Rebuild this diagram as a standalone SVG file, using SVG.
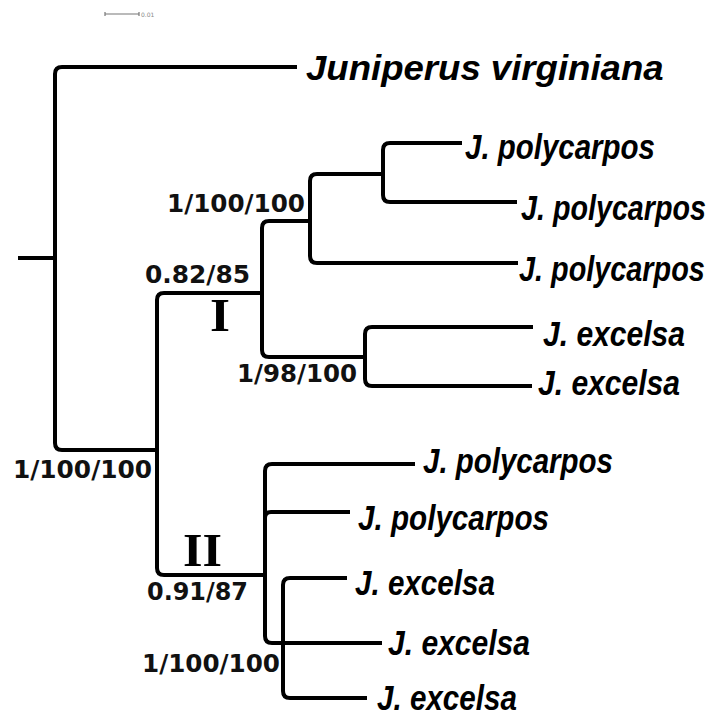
<svg xmlns="http://www.w3.org/2000/svg" width="719" height="718" viewBox="0 0 719 718">
<style>
.br{fill:none;stroke:#000;stroke-width:4;stroke-linecap:butt;stroke-linejoin:round}
.leaf{font-family:"Liberation Sans",Arial,sans-serif;font-weight:bold;font-style:italic;font-size:35px;fill:#000}
.sup{font-family:"DejaVu Sans","Liberation Sans",sans-serif;font-weight:bold;font-size:24px;fill:#111}
.clade{font-family:"Liberation Serif","Times New Roman",serif;font-weight:bold;font-size:46px;fill:#000}
</style>
<rect width="719" height="718" fill="#fff"/>
<g id="scalebar">
<path d="M105 14 H139 M105 12 V16 M139 12 V16" stroke="#777" stroke-width="1.2" fill="none"/>
<text x="141" y="17" font-family="DejaVu Sans, sans-serif" font-size="6" fill="#888">0.01</text>
</g>
<g id="connectors">
<path class="br" d="M18 258 H55"/>
<path class="br" d="M297 67 H62 Q55 67 55 74 V443 Q55 450 62 450 H157"/>
<path class="br" d="M262 293 H164 Q157 293 157 300 V568 Q157 575 164 575 H265"/>
<path class="br" d="M310 221 H269 Q262 221 262 228 V350 Q262 357 269 357 H365"/>
<path class="br" d="M383 174 H317 Q310 174 310 181 V256 Q310 263 317 263 H518"/>
<path class="br" d="M462 143 H390 Q383 143 383 150 V195 Q383 202 390 202 H517"/>
<path class="br" d="M533 327 H372 Q365 327 365 334 V379 Q365 386 372 386 H532"/>
<path class="br" d="M415 464 H272 Q265 464 265 471 V636 Q265 643 272 643 H382"/>
<path class="br" d="M350 512 H271 Q265 512 265 518"/>
<path class="br" d="M347 578 H290 Q283 578 283 585 V691 Q283 698 290 698 H367"/>
</g>
<g id="n-virginiana"><text class="leaf" font-size="32" transform="translate(306 80) scale(1.045 1)">Juniperus virginiana</text></g>
<g id="n-poly1"><text class="leaf" transform="translate(465 159) scale(0.842 1)">J. polycarpos</text></g>
<g id="n-poly2"><text class="leaf" transform="translate(521 220) scale(0.82 1)">J. polycarpos</text></g>
<g id="n-poly3"><text class="leaf" transform="translate(519 281) scale(0.824 1)">J. polycarpos</text></g>
<g id="n-exc1"><text class="leaf" transform="translate(543 346) scale(0.859 1)">J. excelsa</text></g>
<g id="n-exc2"><text class="leaf" transform="translate(538 395) scale(0.859 1)">J. excelsa</text></g>
<g id="n-poly4"><text class="leaf" transform="translate(423 473) scale(0.842 1)">J. polycarpos</text></g>
<g id="n-poly5"><text class="leaf" transform="translate(358 530) scale(0.847 1)">J. polycarpos</text></g>
<g id="n-exc3"><text class="leaf" transform="translate(355 595) scale(0.846 1)">J. excelsa</text></g>
<g id="n-exc4"><text class="leaf" transform="translate(388 655) scale(0.859 1)">J. excelsa</text></g>
<g id="n-exc5"><text class="leaf" transform="translate(377 710) scale(0.846 1)">J. excelsa</text></g>
<g id="support">
<text class="sup" x="167" y="212" textLength="138" lengthAdjust="spacingAndGlyphs">1/100/100</text>
<text class="sup" x="145" y="283" textLength="105" lengthAdjust="spacingAndGlyphs">0.82/85</text>
<text class="sup" x="237" y="382" textLength="120" lengthAdjust="spacingAndGlyphs">1/98/100</text>
<text class="sup" x="13" y="478" textLength="139" lengthAdjust="spacingAndGlyphs">1/100/100</text>
<text class="sup" x="147" y="600" textLength="101" lengthAdjust="spacingAndGlyphs">0.91/87</text>
<text class="sup" x="142" y="672" textLength="138" lengthAdjust="spacingAndGlyphs">1/100/100</text>
</g>
<g id="clade-I"><text class="clade" x="210" y="331" textLength="20" lengthAdjust="spacingAndGlyphs">I</text></g>
<g id="clade-II"><text class="clade" x="183" y="566" textLength="39" lengthAdjust="spacingAndGlyphs">II</text></g>
</svg>
